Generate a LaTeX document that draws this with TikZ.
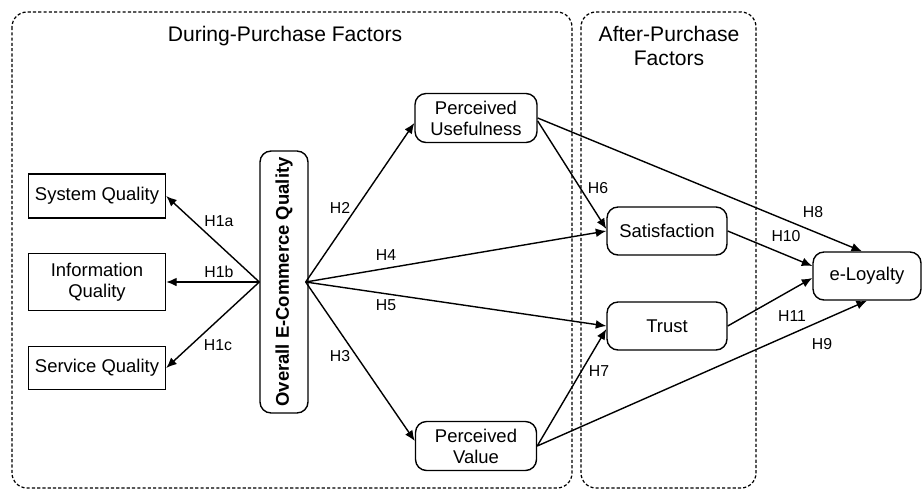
\documentclass[tikz,border=0pt]{standalone}
\usepackage{fontspec}
\setmainfont{Liberation Sans}
\usepackage{tikz}
\usetikzlibrary{arrows.meta}

\begin{document}
\begin{tikzpicture}[x=0.02cm,y=-0.02cm,
    box/.style={draw,line width=0.8pt,align=center,inner sep=1pt,
        font=\fontsize{10.5}{12}\selectfont},
    rbox/.style={box,rounded corners=0.22cm},
    hyp/.style={-{Latex[length=6pt,width=5pt]},line width=0.8pt},
    hlab/.style={font=\fontsize{9}{10}\selectfont,inner sep=0pt},
    zone/.style={line width=0.7pt,dash pattern=on 1.8pt off 1.2pt,rounded corners=0.3cm},
    title/.style={align=center,font=\fontsize{12}{14}\selectfont}]
    \useasboundingbox (0,0) rectangle (923,491);

    % factor groups
    \draw[zone] (12,12) rectangle (572,488);
    \draw[zone] (581,12) rectangle (756,488);
    \node[title] (during) at (285,36) {During-Purchase Factors};
    \node[title] (after) at (669,46) {After-Purchase\\Factors};

    % constructs
    \node[box,minimum width=2.74cm,minimum height=0.88cm] (sys) at (97,196) {System Quality};
    \node[box,minimum width=2.74cm,minimum height=1.14cm] (info) at (97,282) {Information\\Quality};
    \node[box,minimum width=2.74cm,minimum height=0.86cm] (serv) at (97,368) {Service Quality};
    \node[rbox,rotate=90,minimum width=5.24cm,minimum height=0.96cm,
        font=\fontsize{10.5}{12}\selectfont\bfseries] (oeq) at (284,282) {Overall E-Commerce Quality};
    \node[rbox,minimum width=2.44cm,minimum height=0.98cm] (pu) at (476,118) {Perceived\\Usefulness};
    \node[rbox,minimum width=2.42cm,minimum height=0.98cm] (pv) at (476,446) {Perceived\\Value};
    \node[rbox,minimum width=2.4cm,minimum height=0.96cm] (sat) at (667,231) {Satisfaction};
    \node[rbox,minimum width=2.4cm,minimum height=0.96cm] (trust) at (667,326) {Trust};
    \node[rbox,minimum width=2.16cm,minimum height=0.96cm] (loy) at (867,276) {e-Loyalty};

    % hypotheses
    \draw[hyp] (oeq.north) -- (sys.east);
    \draw[hyp] (oeq.north) -- (info.east);
    \draw[hyp] (oeq.north) -- (serv.east);
    \draw[hyp] ([xshift=-0.06cm]oeq.south) -- ([yshift=-0.1cm]pu.west);
    \draw[hyp] ([xshift=-0.06cm]oeq.south) -- (sat.west);
    \draw[hyp] ([xshift=-0.06cm]oeq.south) -- (trust.west);
    \draw[hyp] ([xshift=-0.06cm]oeq.south) -- ([yshift=0.1cm]pv.west);
    \draw[hyp] ([yshift=-0.06cm]pu.east) -- ([yshift=0.04cm]sat.west);
    \draw[hyp] (pu.east) -- ([xshift=-0.1cm]loy.north);
    \draw[hyp] (sat.east) -- ([yshift=0.2cm]loy.west);
    \draw[hyp] (trust.east) -- ([yshift=-0.04cm]loy.west);
    \draw[hyp] (pv.east) -- ([yshift=-0.06cm]trust.west);
    \draw[hyp] (pv.east) -- (loy.south);

    \foreach \name/\x/\y in {H1a/219/221,H1b/219/272,H1c/218/345,H2/340/208,H3/340/356,
        H4/386/255,H5/386/305,H6/598/188,H7/599/371,H8/813/212,H9/822/344,H10/786/236,H11/792/316}
        \node[hlab] (l\name) at (\x,\y) {\name};
\end{tikzpicture}
\end{document}
